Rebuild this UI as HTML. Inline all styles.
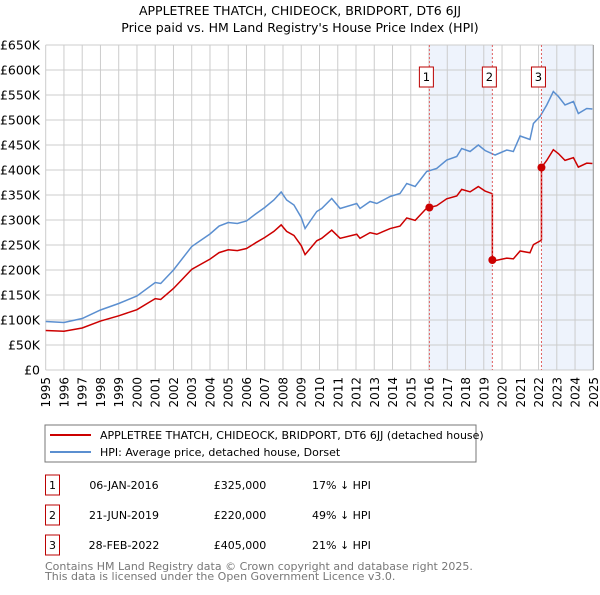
<!DOCTYPE html>
<html><head><meta charset="utf-8"><style>
body{margin:0;background:#fff;font-family:"Liberation Sans","DejaVu Sans",sans-serif;}
svg text{font-family:"DejaVu Sans","Liberation Sans",sans-serif;}
</style></head><body>
<svg id="c" width="600" height="590" xmlns="http://www.w3.org/2000/svg">
<text x="300" y="15" font-size="12.5" text-anchor="middle">APPLETREE THATCH, CHIDEOCK, BRIDPORT, DT6 6JJ</text>
<text x="300" y="32" font-size="12.5" text-anchor="middle">Price paid vs. HM Land Registry's House Price Index (HPI)</text>
<g id="plot"></g>
<rect x="45" y="425" width="431" height="37" fill="#fff" stroke="#777"/>
<line x1="50" y1="435" x2="91" y2="435" stroke="#cc0000" stroke-width="2"/>
<text x="100" y="439" font-size="11">APPLETREE THATCH, CHIDEOCK, BRIDPORT, DT6 6JJ (detached house)</text>
<line x1="50" y1="452" x2="91" y2="452" stroke="#5b8fd0" stroke-width="2"/>
<text x="100" y="456" font-size="11">HPI: Average price, detached house, Dorset</text>
<g id="tbl" font-size="11"></g>
<text x="45" y="570" font-size="11" fill="#777">Contains HM Land Registry data © Crown copyright and database right 2025.</text>
<text x="45" y="580" font-size="11" fill="#777">This data is licensed under the Open Government Licence v3.0.</text>
</svg>
<script>
const hpiYears=[1995,1996,1997,1998,1999,2000,2001,2001.3,2002,2003,2004,2004.5,2005,2005.5,2006,2006.5,2007,2007.5,2007.9,2008.2,2008.6,2009,2009.21,2009.85,2010.12,2010.67,2011.13,2012.04,2012.22,2012.77,2013.14,2013.87,2014.41,2014.78,2015.24,2015.87,2016.42,2016.97,2017.52,2017.79,2018.25,2018.7,2019.07,2019.62,2020.26,2020.62,2020.99,2021.53,2021.72,2022.08,2022.45,2022.81,2023.09,2023.45,2023.91,2024.18,2024.64,2024.95];
const hpiValues=[97,95,103,120,133,148,175,173,200,247,272,288,295,293,298,312,325,340,356,340,330,305,283,317,323,343,323,333,323,337,333,347,353,373,367,397,403,420,427,443,437,450,439,430,440,437,468,461,493,507,530,557,547,530,537,513,523,522];
const saleYears=[2016.02,2019.47,2022.16];
const salePrices=[325,220,405];
const saleLabels=["1","2","3"];
const saleDates=["06-JAN-2016","21-JUN-2019","28-FEB-2022"];
const salePriceText=["£325,000","£220,000","£405,000"];
const saleDiffText=["17% ↓ HPI","49% ↓ HPI","21% ↓ HPI"];
const yTicks=[0,50,100,150,200,250,300,350,400,450,500,550,600,650];
const yTickLabels=["£0","£50K","£100K","£150K","£200K","£250K","£300K","£350K","£400K","£450K","£500K","£550K","£600K","£650K"];
const xTickYears=[1995,1996,1997,1998,1999,2000,2001,2002,2003,2004,2005,2006,2007,2008,2009,2010,2011,2012,2013,2014,2015,2016,2017,2018,2019,2020,2021,2022,2023,2024,2025];

const X0=45.7,X1=593.3,Y0=370,Y1=45,XMIN=1995,XMAX=2025,YMAX=650;
const xs=t=>X0+(t-XMIN)/(XMAX-XMIN)*(X1-X0);
const ys=v=>Y0-v/YMAX*(Y0-Y1);
const NS="http://www.w3.org/2000/svg";
const plot=document.getElementById('plot');
function mk(tag,at,parent){const e=document.createElementNS(NS,tag);for(const k in at)e.setAttribute(k,at[k]);(parent||plot).appendChild(e);return e;}
function hpiAt(t){
  if(t<=hpiYears[0])return hpiValues[0];
  for(let i=1;i<hpiYears.length;i++){if(t<=hpiYears[i]){const f=(t-hpiYears[i-1])/(hpiYears[i]-hpiYears[i-1]);return hpiValues[i-1]+f*(hpiValues[i]-hpiValues[i-1]);}}
  return hpiValues[hpiValues.length-1];
}
// shading
for(let i=0;i<saleYears.length;i+=2){
  const end=i+1<saleYears.length?saleYears[i+1]:XMAX;
  const r=mk('rect',{x:xs(saleYears[i]),y:Y1,width:xs(end)-xs(saleYears[i]),height:Y0-Y1,fill:'#eef3fc'});
  
  
}
// grid
yTicks.forEach((v,i)=>{
  const l=mk('line',{x1:X0,x2:X1,y1:ys(v),y2:ys(v),stroke:'#cccccc','stroke-width':1});
  
  
  const t=mk('text',{x:40,y:ys(v)+4.5,'font-size':12.5,'text-anchor':'end'});
  t.textContent=yTickLabels[i];
  
  
});
xTickYears.forEach(yr=>{
  const l=mk('line',{x1:xs(yr),x2:xs(yr),y1:Y1,y2:Y0,stroke:'#cccccc','stroke-width':1});
  
  
  const t=mk('text',{x:0,y:0,'font-size':12,'text-anchor':'end',transform:`translate(${xs(yr)+4.5},377) rotate(-90)`});
  t.textContent=String(yr);
  
  
});
// HPI line
const hp=mk('polyline',{points:hpiYears.map((t,i)=>xs(t)+','+ys(hpiValues[i])).join(' '),fill:'none',stroke:'#5b8fd0','stroke-width':1.5});


// red line: indexed from sales
const ratios=saleYears.map((t,i)=>salePrices[i]/hpiAt(t));
function seg(t){let k=0;for(let i=1;i<saleYears.length;i++)if(t>=saleYears[i])k=i;return k;}
let pts=[];
const allT=[...hpiYears,...saleYears].sort((a,b)=>a-b);
allT.forEach(t=>{
  const k=seg(t);
  if(k>0&&Math.abs(t-saleYears[k])<1e-9){pts.push([t,hpiAt(t)*ratios[k-1]]);}
  pts.push([t,hpiAt(t)*ratios[k]]);
});
const rp=mk('polyline',{points:pts.map(p=>xs(p[0])+','+ys(p[1])).join(' '),fill:'none',stroke:'#cc0000','stroke-width':1.5});


// sale markers
saleYears.forEach((t,i)=>{
  const l=mk('line',{x1:xs(t),x2:xs(t),y1:Y1,y2:Y0,stroke:'#e06060','stroke-width':1,'stroke-dasharray':'2,2'});
  
  
  const c=mk('circle',{cx:xs(t),cy:ys(salePrices[i]),r:4,fill:'#cc0000'});
  
  
  const b=mk('rect',{x:xs(t)-10,y:67,width:14,height:20,fill:'#fff',stroke:'#bb0000'});
  
  
  const tx=mk('text',{x:xs(t)-3,y:81,'font-size':11.5,'text-anchor':'middle'});
  tx.textContent=saleLabels[i];
  
  
});
mk('line',{x1:X1,x2:X1,y1:Y1,y2:Y0,stroke:'#999','stroke-width':1});
// table
const tbl=document.getElementById('tbl');
saleYears.forEach((t,i)=>{
  const y0=475+i*30;
  const b=mk('rect',{x:45.5,y:y0,width:14,height:20,fill:'#fff',stroke:'#bb0000'},tbl);
  
  
  const cols=[[52.5,saleLabels[i],'middle','table-marker-label'],[124,saleDates[i],'middle','table-date'],[240,salePriceText[i],'middle','table-price'],[312,saleDiffText[i],'start','table-hpi-diff']];
  cols.forEach(c=>{
    const e=mk('text',{x:c[0],y:y0+14,'text-anchor':c[2]},tbl);
    e.textContent=c[1];
    
    
  });
});
</script>
</body></html>
